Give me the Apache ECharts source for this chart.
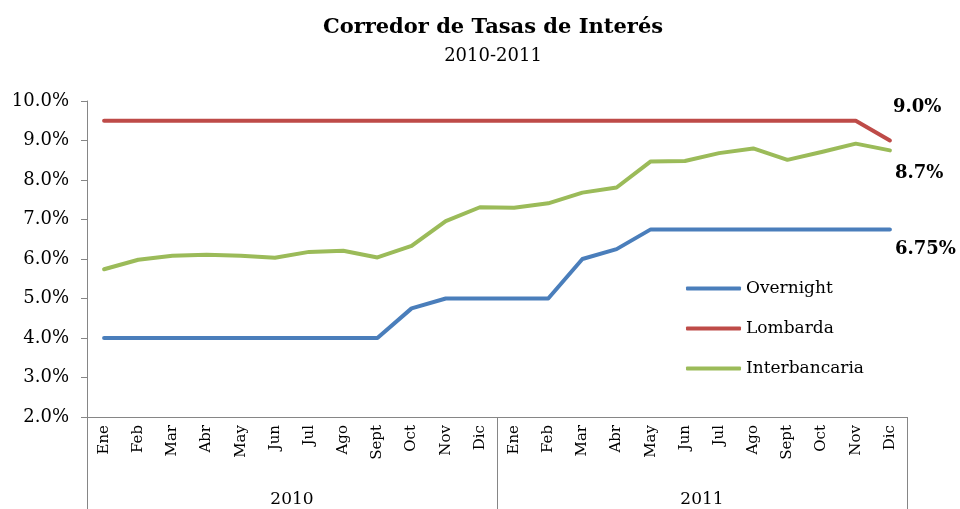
<!DOCTYPE html>
<html>
<head>
<meta charset="utf-8">
<script src="https://cdn.jsdelivr.net/npm/echarts@6/dist/echarts.min.js"></script>
<style>
  html, body { margin: 0; padding: 0; background: #fff; }
  #main { width: 960px; height: 509px; }
</style>
</head>
<body>
<div id="main"></div>
<script>
// datos
const months = ['Ene', 'Feb', 'Mar', 'Abr', 'May', 'Jun', 'Jul', 'Ago', 'Sept', 'Oct', 'Nov', 'Dic'];
const years = ['2010', '2011'];
const overnight = [4, 4, 4, 4, 4, 4, 4, 4, 4, 4.75, 5, 5,
                   5, 5, 6, 6.25, 6.75, 6.75, 6.75, 6.75, 6.75, 6.75, 6.75, 6.75];
const lombarda = [9.5, 9.5, 9.5, 9.5, 9.5, 9.5, 9.5, 9.5, 9.5, 9.5, 9.5, 9.5,
                  9.5, 9.5, 9.5, 9.5, 9.5, 9.5, 9.5, 9.5, 9.5, 9.5, 9.5, 9.0];
const interbancaria = [5.74, 5.98, 6.08, 6.11, 6.08, 6.03, 6.18, 6.21, 6.04, 6.33, 6.96, 7.31,
                       7.30, 7.41, 7.68, 7.81, 8.47, 8.48, 8.68, 8.80, 8.51, 8.71, 8.92, 8.75];
const endLabels = ['6.75%', '9.0%', '8.7%'];

const serif = 'DejaVu Serif';
const axisGray = '#868686';

// una categoria por mes, p.ej. "Ene-2010"
const categories = [];
years.forEach(y => months.forEach(m => categories.push(m + '-' + y)));

function lineSeries(name, data, color, label, offset) {
    return {
        name: name,
        type: 'line',
        xAxisIndex: 0,
        data: data,
        symbol: 'none',
        lineStyle: { color: color, width: 4, cap: 'round', join: 'round' },
        itemStyle: { color: color },
        endLabel: {
            show: true,
            formatter: label,
            offset: offset,
            fontFamily: serif,
            fontWeight: 'bold',
            fontSize: 18,
            color: '#000'
        },
        emphasis: { disabled: true }
    };
}

let myChart = echarts.init(document.getElementById('main'));
myChart.setOption({
    backgroundColor: '#fff',
    animation: false,
    title: {
        text: 'Corredor de Tasas de Interés',
        subtext: '2010-2011',
        left: 488,
        top: 12,
        textAlign: 'center',
        itemGap: 9,
        textStyle: { fontFamily: serif, fontWeight: 'bold', fontSize: 21, color: '#000' },
        subtextStyle: { fontFamily: serif, fontSize: 18, color: '#000' }
    },
    legend: {
        orient: 'vertical',
        left: 681,
        top: 275,
        itemWidth: 55,
        itemHeight: 4,
        itemGap: 23,
        icon: 'roundRect',
        selectedMode: false,
        textStyle: { fontFamily: serif, fontSize: 17, color: '#000' },
        data: ['Overnight', 'Lombarda', 'Interbancaria']
    },
    grid: {
        left: 87,
        right: 53,
        top: 101,
        bottom: 92,
        containLabel: false,
        outerBoundsMode: 'none'
    },
    xAxis: [
        {
            type: 'category',
            data: categories,
            boundaryGap: true,
            axisLine: { lineStyle: { color: axisGray, width: 1 } },
            axisTick: { show: false },
            axisLabel: {
                interval: 0,
                rotate: 90,
                margin: 8,
                fontFamily: serif,
                fontSize: 15,
                color: '#000',
                formatter: v => v.split('-')[0]
            },
            splitLine: { show: false }
        },
        {
            type: 'category',
            data: years,
            position: 'bottom',
            offset: 92,
            boundaryGap: true,
            axisLine: { show: false },
            axisTick: {
                show: true,
                inside: true,
                length: 92,
                interval: 0,
                lineStyle: { color: axisGray, width: 1 }
            },
            axisLabel: {
                inside: true,
                margin: 1,
                fontFamily: serif,
                fontSize: 17,
                color: '#000'
            },
            splitLine: { show: false }
        }
    ],
    yAxis: {
        type: 'value',
        min: 2,
        max: 10,
        interval: 1,
        axisLine: { show: true, lineStyle: { color: axisGray, width: 1 } },
        axisTick: { show: true, length: 6, lineStyle: { color: axisGray } },
        splitLine: { show: false },
        axisLabel: {
            margin: 18,
            fontFamily: serif,
            fontSize: 18,
            color: '#000',
            formatter: v => v.toFixed(1) + '%'
        }
    },
    series: [
        lineSeries('Overnight', overnight, '#4A7EBB', endLabels[0], [-3, 20]),
        lineSeries('Lombarda', lombarda, '#BE4B48', endLabels[1], [-5, -33]),
        lineSeries('Interbancaria', interbancaria, '#9BBB59', endLabels[2], [-3, 23])
    ]
});
</script>
</body>
</html>
